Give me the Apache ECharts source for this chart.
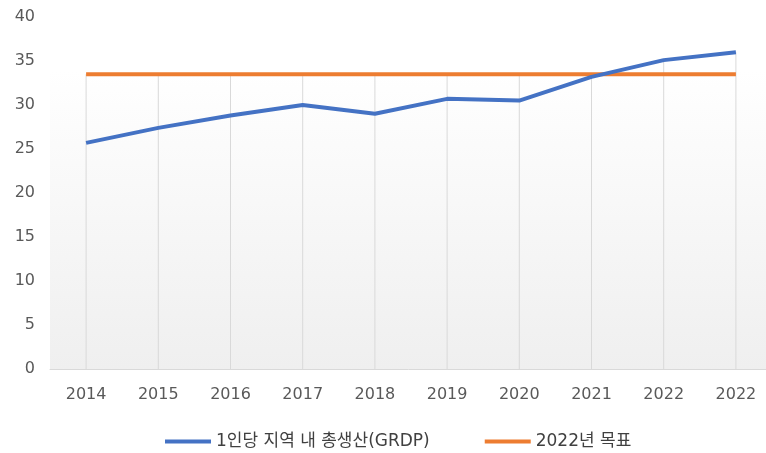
<!DOCTYPE html>
<html>
<head>
<meta charset="utf-8">
<script src="https://cdn.jsdelivr.net/npm/echarts@6/dist/echarts.min.js"></script>
<style>
html,body{margin:0;padding:0;background:#fff;}
#chart{width:766px;height:453px;}
</style>
</head>
<body>
<div id="chart"></div>
<script>
const categories = ['2014','2015','2016','2017','2018','2019','2020','2021','2022','2022'];
const grdpName = '1인당 지역 내 총생산(GRDP)';
const targetName = '2022년 목표';
const grdpValues = [25.7, 27.4, 28.8, 30.0, 29.0, 30.7, 30.5, 33.2, 35.1, 36.0];
const targetValues = [33.5, 33.5, 33.5, 33.5, 33.5, 33.5, 33.5, 33.5, 33.5, 33.5];
const yTicks = {min: 0, max: 40, interval: 5};

const dropValues = grdpValues.map((v, i) => Math.max(v, targetValues[i]));

const chart = echarts.init(document.getElementById('chart'), null, {renderer: 'canvas'});
const font = "'DejaVu Sans', 'Noto Sans CJK KR', sans-serif";
chart.setOption({
  animation: false,
  backgroundColor: '#ffffff',
  grid: {
    left: 50, width: 722, top: 17, bottom: 84,
    containLabel: false,
    outerBoundsMode: 'none',
    show: true, borderWidth: 0,
    backgroundColor: new echarts.graphic.LinearGradient(0, 0, 0, 1, [
      {offset: 0, color: '#ffffff'},
      {offset: 0.15, color: '#ffffff'},
      {offset: 1, color: '#efefef'}
    ])
  },
  legend: {
    data: [
      {name: grdpName, icon: 'rect'},
      {name: targetName, icon: 'rect'}
    ],
    left: 160, top: 428,
    itemWidth: 46, itemHeight: 4, itemGap: 55,
    textStyle: {fontFamily: font, fontSize: 17, color: '#404040'}
  },
  xAxis: {
    type: 'category',
    data: categories,
    boundaryGap: true,
    axisLine: {show: true, lineStyle: {color: '#d9d9d9', width: 1}},
    axisTick: {show: false},
    axisLabel: {fontFamily: font, fontSize: 16, color: '#595959', margin: 18},
    splitLine: {show: false}
  },
  yAxis: {
    type: 'value',
    min: yTicks.min, max: yTicks.max, interval: yTicks.interval,
    axisLine: {show: false},
    axisTick: {show: false},
    splitLine: {show: false},
    axisLabel: {fontFamily: font, fontSize: 16, color: '#595959', margin: 15}
  },
  series: [
    {
      name: 'drop',
      type: 'bar',
      data: dropValues,
      barWidth: 1,
      itemStyle: {color: '#d9d9d9'},
      silent: true,
      z: 1
    },
    {
      name: grdpName,
      type: 'line',
      data: grdpValues,
      showSymbol: false,
      symbol: 'none',
      lineStyle: {color: '#4472C4', width: 4},
      itemStyle: {color: '#4472C4'},
      z: 3
    },
    {
      name: targetName,
      type: 'line',
      data: targetValues,
      showSymbol: false,
      symbol: 'none',
      lineStyle: {color: '#ED7D31', width: 4},
      itemStyle: {color: '#ED7D31'},
      z: 2
    }
  ]
});
</script>
</body>
</html>
